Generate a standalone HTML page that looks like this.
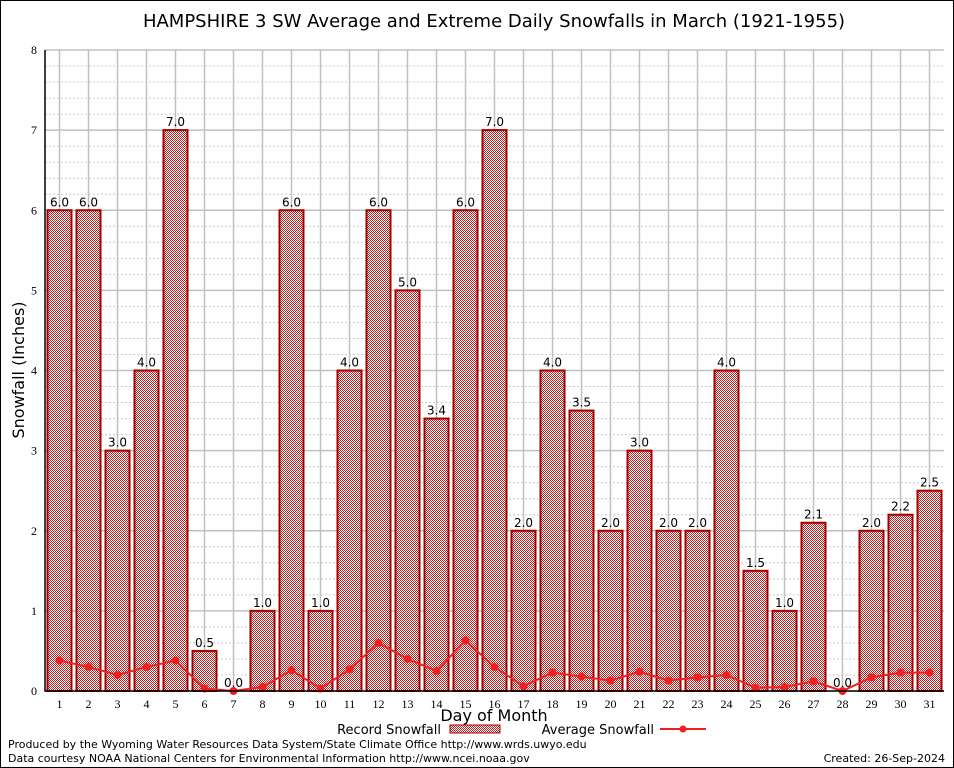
<!DOCTYPE html>
<html><head><meta charset="utf-8"><style>
body{margin:0;background:#fff}
svg{display:block;font-family:"DejaVu Sans","Liberation Sans",sans-serif}
</style></head><body>
<svg id="c" width="954" height="768" viewBox="0 0 954 768">
<defs><pattern id="chk" width="2" height="2" patternUnits="userSpaceOnUse"><rect width="2" height="2" fill="#fff"/><rect width="1" height="1" fill="#c02020"/><rect x="1" y="1" width="1" height="1" fill="#c02020"/></pattern></defs>
<rect x="0.5" y="0.5" width="953" height="767" fill="#fff" stroke="#000"/>
<text x="494" y="27" text-anchor="middle" font-size="18">HAMPSHIRE 3 SW Average and Extreme Daily Snowfalls in March (1921-1955)</text>
<g id="grid"></g>
<g id="bars"></g>
<g id="avg"></g>
<g id="axes"></g>
<text x="24" y="370" transform="rotate(-90 24 370)" text-anchor="middle" font-size="16">Snowfall (Inches)</text>
<text x="494" y="721" text-anchor="middle" font-size="16">Day of Month</text>
<g>
<text x="441" y="734" text-anchor="end" font-size="13">Record Snowfall</text>
<rect x="450" y="725" width="50" height="8" fill="url(#chk)" stroke="#a00000"/>
<text x="654" y="734" text-anchor="end" font-size="13">Average Snowfall</text>
<line x1="660" y1="729" x2="706" y2="729" stroke="#f02020" stroke-width="2"/>
<circle cx="683" cy="729" r="3.5" fill="#f02020"/>
</g>
<text x="8" y="748" font-size="11">Produced by the Wyoming Water Resources Data System/State Climate Office http://www.wrds.uwyo.edu</text>
<text x="8" y="762" font-size="11">Data courtesy NOAA National Centers for Environmental Information http://www.ncei.noaa.gov</text>
<text x="945" y="762" text-anchor="end" font-size="11">Created:  26-Sep-2024</text>
</svg>
<script>
const days=[1,2,3,4,5,6,7,8,9,10,11,12,13,14,15,16,17,18,19,20,21,22,23,24,25,26,27,28,29,30,31];
const recordSnow=[6.0,6.0,3.0,4.0,7.0,0.5,0.0,1.0,6.0,1.0,4.0,6.0,5.0,3.4,6.0,7.0,2.0,4.0,3.5,2.0,3.0,2.0,2.0,4.0,1.5,1.0,2.1,0.0,2.0,2.2,2.5];
const avgSnow=[0.38,0.3,0.2,0.3,0.38,0.03,0.0,0.05,0.26,0.03,0.27,0.6,0.4,0.25,0.63,0.3,0.06,0.23,0.18,0.13,0.24,0.13,0.17,0.2,0.04,0.05,0.12,0.0,0.17,0.23,0.23];
const yTicks=[0,1,2,3,4,5,6,7,8];
const L=45,R=944,T=50,B=691,yMax=8;
const NS="http://www.w3.org/2000/svg";
const xS=d=>L+(d-0.5)*(R-L)/days.length;
const yS=v=>B-v/yMax*(B-T);
function mk(p,t,a){const e=document.createElementNS(NS,t);for(const k in a)e.setAttribute(k,a[k]);document.getElementById(p).appendChild(e);return e;}
for(let v=0;v<=yMax+1e-9;v+=0.2){const major=Math.abs(v-Math.round(v))<1e-6;
 const l=mk('grid','line',{x1:L,x2:R,y1:yS(v),y2:yS(v),stroke:major?'#c0c0c0':'#cccccc','stroke-width':major?1.5:1,'stroke-dasharray':major?'':'2,2'});
 
 }
days.forEach(d=>{const l=mk('grid','line',{x1:xS(d),x2:xS(d),y1:T,y2:B,stroke:'#c0c0c0','stroke-width':1.5});
 
 });
const bw=24;
days.forEach((d,i)=>{const v=recordSnow[i];
 const r=mk('bars','rect',{x:xS(d)-bw/2,y:yS(v),width:bw,height:B-yS(v),fill:'url(#chk)',stroke:'#a00000','stroke-width':2});
 
 
 const t=mk('bars','text',{x:xS(d),y:yS(v)-4,'text-anchor':'middle','font-size':12});
 t.textContent=v.toFixed(1);
 
 });
const pl=mk('avg','polyline',{points:days.map((d,i)=>xS(d)+','+yS(avgSnow[i])).join(' '),fill:'none',stroke:'#f02020','stroke-width':2});


days.forEach((d,i)=>{const c=mk('avg','circle',{cx:xS(d),cy:yS(avgSnow[i]),r:4,fill:'#f02020'});
 
 });
const ax=mk('axes','path',{d:`M${L},${T}V${B}H${R}`,stroke:'#000',fill:'none','stroke-width':1.5});


yTicks.forEach(v=>{const t=mk('axes','text',{x:L-8,y:yS(v)+4,'text-anchor':'end','font-size':12,'font-family':'Liberation Serif, serif'});
 t.textContent=v;
 
 });
days.forEach(d=>{const t=mk('axes','text',{x:xS(d),y:B+17,'text-anchor':'middle','font-size':12,'font-family':'Liberation Serif, serif'});
 t.textContent=d;
 
 });
</script>
</body></html>
